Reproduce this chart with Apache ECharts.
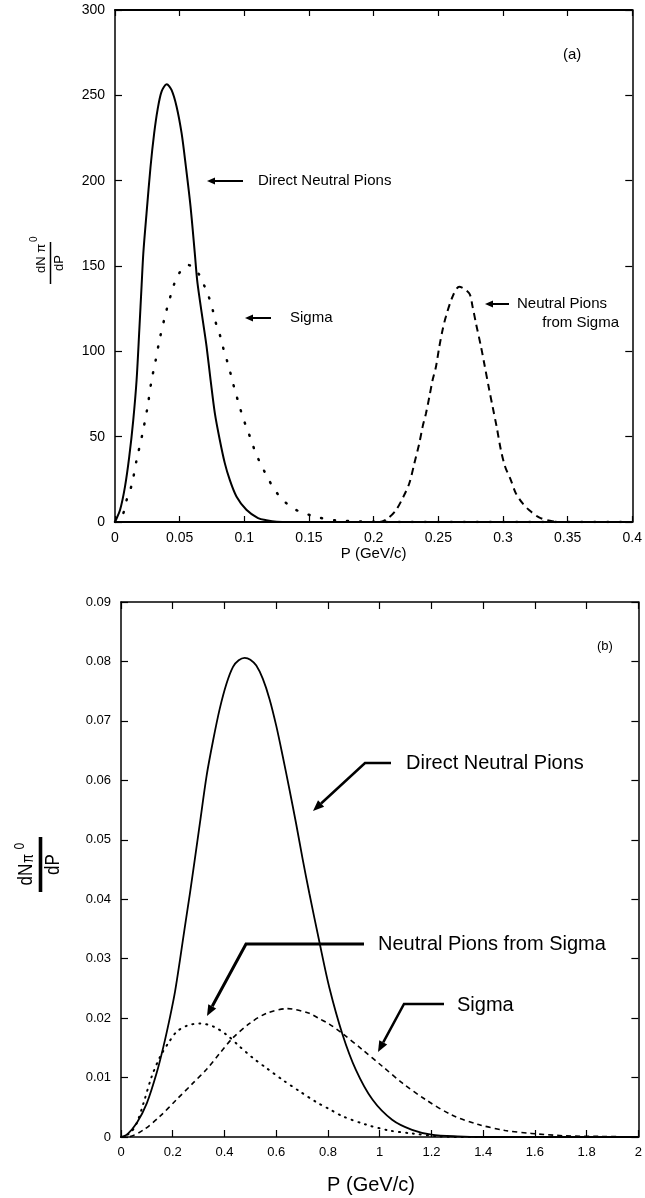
<!DOCTYPE html>
<html>
<head>
<meta charset="utf-8">
<script src="https://cdn.jsdelivr.net/npm/echarts@6/dist/echarts.min.js"></script>
<style>
  html, body { margin: 0; padding: 0; background: #fff; }
  #chart { width: 645px; height: 1198px; }
</style>
</head>
<body>
<div id="chart"></div>
<script>
// ---- Panel (a): low-momentum spectra, P in GeV/c ----
const directA = [[0,0],[0.0005,0.9],[0.0039,7],[0.0077,20.6],[0.011,38.1],[0.0141,59.6],[0.0167,83.2],
  [0.0188,112.5],[0.0206,139],[0.0219,157.5],[0.0244,181],[0.0275,208.3],[0.0303,227.8],[0.0329,241.5],
  [0.036,252.2],[0.040,256.5],[0.0437,253.2],[0.0476,243.5],[0.0515,227.8],[0.0548,208.3],[0.0584,184.9],
  [0.0617,157.5],[0.0635,141.9],[0.0656,130],[0.0682,116.5],[0.0708,102.9],[0.0739,83.3],[0.0772,63.8],
  [0.081,48.2],[0.0849,34.5],[0.0887,24.8],[0.0939,15],[0.1016,7.2],[0.1106,2.3],[0.117,1],[0.125,0.2],
  [0.15,0],[0.2,0],[0.3,0],[0.4,0]];
const sigmaA = [[0,0],[0.003,1],[0.0064,5.1],[0.009,12.9],[0.0129,21.7],[0.0167,36.3],[0.0213,52],
  [0.0252,67.6],[0.0283,83.2],[0.031,93],[0.0347,107.7],[0.0399,124.3],[0.0424,131],[0.0455,138.9],
  [0.0496,145.8],[0.0566,150.6],[0.0643,145.8],[0.0687,139],[0.0725,132],[0.0759,123.3],[0.0784,115.5],
  [0.0815,108.6],[0.0841,100.8],[0.0872,93],[0.09,85.2],[0.0926,77.4],[0.0957,69.6],[0.0983,62.7],
  [0.1019,54.9],[0.1055,47.7],[0.1088,40.3],[0.1131,33.4],[0.1183,25.6],[0.1235,18.8],[0.1299,12.9],
  [0.1376,8],[0.1466,5.1],[0.1569,2.7],[0.17,1],[0.19,0.3],[0.21,0],[0.4,0]];
const pionsFromSigmaA = [[0,0],[0.1,0],[0.2045,0],[0.2109,2.1],[0.2173,7],[0.223,14.8],[0.2276,22.7],
  [0.2315,34.4],[0.2353,46.1],[0.2379,55.9],[0.2405,63.7],[0.2431,73.4],[0.2456,83.2],[0.2482,91],
  [0.2508,102.8],[0.2533,112.5],[0.2559,120.4],[0.261,132],[0.2662,137.9],[0.2739,134],[0.2765,126.2],
  [0.2791,116.5],[0.283,102.8],[0.2855,93],[0.2894,77.4],[0.292,67.6],[0.2951,55.9],[0.2984,42.2],
  [0.3017,32.4],[0.3061,24.6],[0.31,16.8],[0.3151,11],[0.3202,7],[0.3279,2.7],[0.3382,0.4],[0.35,0],[0.4,0]];

// ---- Panel (b): wider momentum range ----
const directB = [[0,0],[0.023,0.0004],[0.0615,0.0024],[0.1,0.0057],[0.138,0.0108],[0.164,0.0152],
  [0.19,0.0203],[0.209,0.0245],[0.228,0.0298],[0.247,0.0354],[0.2665,0.041],[0.286,0.0469],[0.305,0.0528],
  [0.331,0.0608],[0.356,0.0667],[0.382,0.0721],[0.408,0.0763],[0.433,0.0791],[0.455,0.0802],[0.478,0.0806],
  [0.50,0.0803],[0.523,0.0793],[0.548,0.0771],[0.574,0.0737],[0.6,0.0692],[0.625,0.0641],[0.651,0.0585],
  [0.677,0.0527],[0.702,0.0468],[0.728,0.041],[0.767,0.0328],[0.805,0.0252],[0.856,0.0173],[0.908,0.0113],
  [0.972,0.0063],[1.048,0.0029],[1.125,0.0012],[1.2,0.0004],[1.3,0.0001],[1.4,0],[2,0]];
const sigmaB = [[0,0],[0.023,0],[0.087,0.0012],[0.151,0.0035],[0.215,0.0063],[0.279,0.0091],[0.331,0.0114],
  [0.382,0.0141],[0.433,0.0167],[0.497,0.0191],[0.562,0.0208],[0.645,0.0216],[0.728,0.0208],[0.767,0.0199],
  [0.805,0.019],[0.856,0.0174],[0.933,0.0147],[1.01,0.0119],[1.087,0.0091],[1.177,0.0063],[1.279,0.0037],
  [1.382,0.0021],[1.485,0.0011],[1.587,0.0006],[1.715,0.0002],[1.85,0.0001],[2,0]];
const pionsFromSigmaB = [[0,0],[0.036,0.0007],[0.0615,0.0024],[0.087,0.0057],[0.119,0.0102],[0.151,0.0135],
  [0.183,0.0158],[0.215,0.0177],[0.254,0.0187],[0.305,0.0191],[0.356,0.0186],[0.408,0.0172],[0.459,0.0152],
  [0.51,0.0133],[0.562,0.0116],[0.625,0.0096],[0.69,0.0077],[0.754,0.0059],[0.805,0.0047],[0.856,0.0035],
  [0.946,0.0021],[1.036,0.0011],[1.125,0.0006],[1.23,0.0001],[1.35,0],[2,0]];

// axis ranges / tick steps
const xRangeA = [0, 0.4, 0.05];
const yRangeA = [0, 300, 50];
const xRangeB = [0, 2, 0.2];
const yRangeB = [0, 0.09, 0.01];

const FONT = '"Liberation Sans", Arial, Helvetica, sans-serif';
const BLACK = '#000';

function fmt(v) { return String(parseFloat(v.toFixed(4))); }

function axisPair(dim, gridIndex, range, opts) {
  const common = {
    type: 'value', gridIndex: gridIndex, min: range[0], max: range[1], interval: range[2],
    splitLine: { show: false },
    axisLine: { show: true, onZero: false, lineStyle: { color: BLACK, width: opts.lineWidth } },
    axisTick: { show: true, inside: true, length: opts.tickLen, lineStyle: { color: BLACK, width: 1.2 } }
  };
  const main = Object.assign({}, common, {
    position: dim === 'x' ? 'bottom' : 'left',
    axisLabel: { color: BLACK, fontSize: opts.labelSize, fontFamily: FONT, margin: opts.labelMargin, formatter: fmt }
  }, opts.extra || {});
  const mirror = Object.assign({}, common, {
    position: dim === 'x' ? 'top' : 'right',
    axisLabel: { show: false }
  });
  return [main, mirror];
}

const xAxes = [
  ...axisPair('x', 0, xRangeA, { lineWidth: 2, tickLen: 6, labelSize: 14, labelMargin: 9,
    extra: { name: 'P (GeV/c)', nameLocation: 'middle', nameGap: 24,
      nameTextStyle: { color: BLACK, fontSize: 15, fontFamily: FONT } } }),
  ...axisPair('x', 1, xRangeB, { lineWidth: 1.5, tickLen: 7, labelSize: 13, labelMargin: 9 })
];
const yAxes = [
  ...axisPair('y', 0, yRangeA, { lineWidth: 1.5, tickLen: 7, labelSize: 14, labelMargin: 10 }),
  ...axisPair('y', 1, yRangeB, { lineWidth: 1.5, tickLen: 7, labelSize: 13, labelMargin: 10 })
];

function curve(data, xi, yi, width, type, cap) {
  return {
    type: 'line', xAxisIndex: xi, yAxisIndex: yi, data: data,
    showSymbol: false, symbol: 'none', smooth: 0.3, silent: true,
    lineStyle: { color: BLACK, width: width, type: type, cap: cap || 'butt' }
  };
}

// arrow: polyline ending in a filled triangular head at the last point
function arrow(pts, width, headLen, headHalf) {
  const tip = pts[pts.length - 1], prev = pts[pts.length - 2];
  let dx = tip[0] - prev[0], dy = tip[1] - prev[1];
  const len = Math.hypot(dx, dy); dx /= len; dy /= len;
  const base = [tip[0] - dx * headLen, tip[1] - dy * headLen];
  const nx = -dy, ny = dx;
  const linePts = pts.slice(0, -1).concat([base]);
  return [
    { type: 'polyline', shape: { points: linePts }, style: { stroke: BLACK, lineWidth: width, fill: null } },
    { type: 'polygon', shape: { points: [tip, [base[0] + nx * headHalf, base[1] + ny * headHalf],
        [base[0] - nx * headHalf, base[1] - ny * headHalf]] }, style: { fill: BLACK } }
  ];
}

function txt(x, y, s, size, align) {
  return { type: 'text', x: x, y: y, style: { text: s, fill: BLACK, font: size + 'px ' + FONT,
    textAlign: align || 'left', textVerticalAlign: 'middle' } };
}

// rotated fraction label: numerator pieces above a bar, "dP" below, whole group turned upright
function fracLabel(cx, cy, barLen, barW, pieces, denomSize, stretch) {
  const children = pieces.map(p => ({
    type: 'text', x: p.x, y: p.y,
    style: { text: p.t, fill: BLACK, font: p.size + 'px ' + FONT, textAlign: 'left', textVerticalAlign: 'bottom' }
  }));
  children.push({ type: 'line', shape: { x1: -barLen / 2, y1: 0, x2: barLen / 2, y2: 0 },
    style: { stroke: BLACK, lineWidth: barW } });
  children.push({ type: 'text', x: 0, y: 2, style: { text: 'dP', fill: BLACK, font: denomSize + 'px ' + FONT,
    textAlign: 'center', textVerticalAlign: 'top' } });
  return { type: 'group', x: cx, y: cy, rotation: Math.PI / 2, scaleY: stretch, children: children };
}

const graphics = [
  // panel (a) annotations
  txt(563, 55, '(a)', 15),
  ...arrow([[243, 181], [207, 181]], 2, 8, 3.5),
  txt(258, 181, 'Direct Neutral Pions', 15),
  ...arrow([[271, 318], [245, 318]], 2, 8, 3.5),
  txt(290, 318, 'Sigma', 15),
  ...arrow([[509, 304], [485, 304]], 2, 8, 3.5),
  txt(517, 304, 'Neutral Pions', 15),
  txt(619, 323, 'from Sigma', 15, 'right'),
  fracLabel(50.5, 263, 42, 1.5, [
    { t: 'dN \u03c0', x: -10, y: -3, size: 13 },
    { t: '0', x: 21, y: -11, size: 10 }
  ], 13, 1),
  // panel (b) annotations
  txt(597, 646, '(b)', 13),
  ...arrow([[391, 763], [365, 763], [313, 811]], 2.5, 11, 4.5),
  txt(406, 763, 'Direct Neutral Pions', 20),
  ...arrow([[364, 944], [246, 944], [207, 1016]], 3, 11, 4.5),
  txt(378, 944, 'Neutral Pions from Sigma', 20),
  ...arrow([[444, 1004], [404, 1004], [378, 1052]], 2.5, 11, 4.5),
  txt(457, 1005, 'Sigma', 20),
  txt(371, 1185, 'P (GeV/c)', 20, 'center'),
  fracLabel(40.5, 864.5, 55, 3, [
    { t: 'dN', x: -21, y: -3, size: 17 },
    { t: '\u03c0', x: 1.5, y: -3, size: 13 },
    { t: '0', x: 15, y: -11, size: 12 }
  ], 17, 1.2)
];

const chart = echarts.init(document.getElementById('chart'), null, { renderer: 'canvas' });
chart.setOption({
  backgroundColor: '#fff',
  animation: false,
  grid: [
    { left: 115, top: 10, width: 519, height: 512 },
    { left: 121, top: 602, width: 520, height: 535 }
  ],
  xAxis: xAxes,
  yAxis: yAxes,
  series: [
    curve(directA, 0, 0, 2, 'solid'),
    curve(sigmaA, 0, 0, 2.5, [1, 12], 'round'),
    curve(pionsFromSigmaA, 0, 0, 2, [7, 5]),
    curve(directB, 2, 2, 1.8, 'solid'),
    curve(sigmaB, 2, 2, 1.6, [5, 4]),
    curve(pionsFromSigmaB, 2, 2, 2, [1, 6], 'round')
  ],
  graphic: graphics
});
</script>
</body>
</html>
